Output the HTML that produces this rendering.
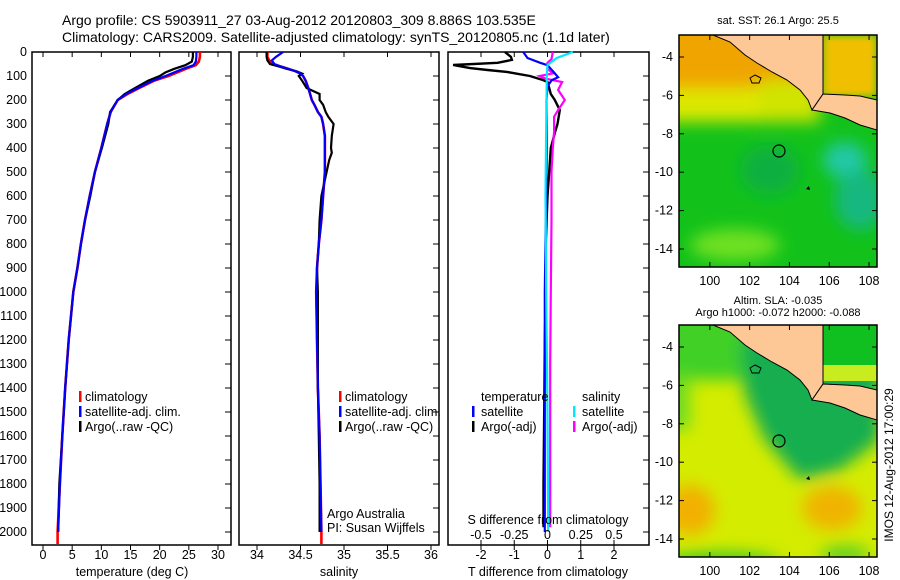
<!DOCTYPE html>
<html><head><meta charset="utf-8">
<style>
html,body{margin:0;padding:0;background:#fff;}
#wrap{position:relative;width:900px;height:580px;overflow:hidden;}
svg text{font-family:"Liberation Sans",sans-serif;font-size:12.5px;fill:#000;}
</style></head>
<body>
<div id="wrap">
<svg id="fig" width="900" height="580" viewBox="0 0 900 580" xmlns="http://www.w3.org/2000/svg">
<defs>
<filter id="bl" x="-20%" y="-20%" width="140%" height="140%"><feGaussianBlur stdDeviation="8"/></filter>
<filter id="bl2" x="-20%" y="-20%" width="140%" height="140%"><feGaussianBlur stdDeviation="4"/></filter>
<clipPath id="m1c"><rect x="679" y="35" width="198" height="232"/></clipPath>
<clipPath id="m2c"><rect x="679" y="325" width="198" height="232"/></clipPath>
</defs>
<text x="62" y="25" style="font-size:14px">Argo profile: CS 5903911_27 03-Aug-2012 20120803_309 8.886S 103.535E</text>
<text x="62" y="42" style="font-size:14px">Climatology: CARS2009. Satellite-adjusted climatology: synTS_20120805.nc (1.1d later)</text>

<!-- Map 1: SST -->
<g>
<g clip-path="url(#m1c)">
<rect x="679" y="35" width="198" height="232" fill="#12c21a"/>
<g filter="url(#bl)">
<rect x="660" y="20" width="160" height="72" fill="#f0a400"/>
<rect x="660" y="88" width="160" height="34" fill="#dce800"/>
<rect x="760" y="80" width="60" height="40" fill="#d0e400"/>
<ellipse cx="845" cy="160" rx="22" ry="18" fill="#20c8a8"/>
<ellipse cx="860" cy="200" rx="25" ry="30" fill="#18b880"/>
<ellipse cx="735" cy="245" rx="45" ry="16" fill="#70e020"/>
<ellipse cx="770" cy="170" rx="30" ry="25" fill="#10b040"/>
</g>
<rect x="823" y="35" width="54" height="62" fill="#f0c000" filter="url(#bl2)"/>
<polygon points="713,35 730,42 745,55 757,63 772,72 787,80 800,90 808,100 812,110 823,94 823,35" fill="#fdc896" stroke="#000" stroke-width="1"/>
<polygon points="823,94 845,95 860,96 877,100 877,130 860,125 845,118 830,113 812,110" fill="#fdc896" stroke="#000" stroke-width="1"/>
<path d="M750,78 l5,-3 l6,3 l-2,5 l-7,0z" fill="none" stroke="#000"/>
<path d="M806,189 l3,-3 l1,4z" fill="#000"/>
</g>
<rect x="679" y="35" width="198" height="232" fill="none" stroke="#000" stroke-width="1.5"/>
<circle cx="779" cy="151" r="6" fill="none" stroke="#000" stroke-width="1.2"/>
<text x="778" y="24" text-anchor="middle" style="font-size:11px">sat. SST: 26.1  Argo: 25.5</text>
</g>

<!-- Map 2: SLA -->
<g>
<g clip-path="url(#m2c)">
<rect x="679" y="325" width="198" height="232" fill="#d4ec00"/>
<g filter="url(#bl)">
<rect x="660" y="305" width="240" height="75" fill="#40d028"/>
<polygon points="740,340 880,330 880,440 840,470 800,480 765,440 745,395" fill="#14ae50"/>
<rect x="660" y="375" width="30" height="55" fill="#70dc20"/>
<ellipse cx="690" cy="510" rx="25" ry="25" fill="#f2b000"/>
<ellipse cx="832" cy="508" rx="30" ry="22" fill="#f0b400"/>
<ellipse cx="720" cy="562" rx="60" ry="10" fill="#40c820"/>
<ellipse cx="845" cy="555" rx="25" ry="10" fill="#60d020"/>
</g>
<rect x="823" y="325" width="54" height="40" fill="#10c020"/>
<rect x="823" y="365" width="54" height="16" fill="#c8ec20"/>
<polygon points="713,325 730,332 745,345 757,353 772,362 787,370 800,380 808,390 812,400 823,384 823,325" fill="#fdc896" stroke="#000" stroke-width="1"/>
<polygon points="823,384 845,385 860,386 877,390 877,420 860,415 845,408 830,403 812,400" fill="#fdc896" stroke="#000" stroke-width="1"/>
<path d="M750,368 l5,-3 l6,3 l-2,5 l-7,0z" fill="none" stroke="#000"/>
<path d="M806,479 l3,-3 l1,4z" fill="#000"/>
</g>
<rect x="679" y="325" width="198" height="232" fill="none" stroke="#000" stroke-width="1.5"/>
<circle cx="779" cy="441" r="6" fill="none" stroke="#000" stroke-width="1.2"/>
<text x="778" y="304" text-anchor="middle" style="font-size:11px">Altim. SLA: -0.035</text>
<text x="778" y="316" text-anchor="middle" style="font-size:11px">Argo h1000: -0.072 h2000: -0.088</text>
</g>
<text transform="translate(893,465) rotate(-90)" text-anchor="middle" style="font-size:12px">IMOS 12-Aug-2012 17:00:29</text>

<g id="plots"></g>
</svg>
</div>
<script>
// ---- Temperature panel data ----
const depthT = [0,20,40,55,70,85,100,120,150,175,200,250,300,400,500,600,700,800,900,1000,1200,1400,1600,1800,2000,2050];
const tClim  = [26.9,26.9,26.7,26.2,24.5,23,21.5,19,16.5,14.5,12.8,11.6,11,10,8.9,8,7.2,6.5,5.9,5.2,4.4,3.8,3.3,2.9,2.5,2.5];
const tSat   = [26.3,26.3,26.2,25.8,24,22.5,21,18.8,16.3,14.3,12.8,11.6,11,10,8.9,8,7.2,6.5,5.9,5.2,4.4,3.8,3.3,2.9,2.6];
const tArgo  = [25.7,25.7,25.5,24.4,22.5,21,20,18,15.8,14,12.8,11.5,11.2,10.1,8.9,8.1,7.2,6.5,5.9,5.2,4.4,3.8,3.3,2.8,2.6];
const tTicks = [0,5,10,15,20,25,30];
// ---- Salinity panel data ----
const depthS = [0,20,35,50,60,70,80,90,100,120,150,175,200,220,250,270,300,350,400,420,450,500,550,600,700,800,900,1000,1200,1400,1600,1800,2000,2050];
const sClim  = [34.12,34.12,34.14,34.17,34.27,34.36,34.44,34.5,34.53,34.56,34.59,34.61,34.63,34.66,34.70,34.74,34.76,34.78,34.78,34.78,34.78,34.78,34.77,34.76,34.74,34.71,34.69,34.68,34.69,34.70,34.72,34.73,34.74,34.74];
const sSat   = [34.30,34.22,34.17,34.20,34.27,34.36,34.44,34.5,34.53,34.56,34.59,34.61,34.63,34.66,34.70,34.74,34.76,34.78,34.78,34.78,34.78,34.78,34.77,34.76,34.74,34.71,34.69,34.68,34.69,34.70,34.72,34.73,34.74];
const sArgo  = [34.11,34.11,34.12,34.15,34.25,34.34,34.45,34.52,34.48,34.52,34.57,34.72,34.72,34.76,34.79,34.82,34.88,34.86,34.85,34.86,34.83,34.80,34.77,34.74,34.72,34.71,34.69,34.70,34.70,34.70,34.71,34.72,34.72];
const sTicks = [34,34.5,35,35.5,36];
// ---- Difference panel data ----
const dTdepth = [0,20,33,45,54,60,67,75,83,100,117,125,150,175,200,242,300,333,400,500,600,800,1000,1200,1500,1800,1980];
const dTArgo  = [-1.28,-1.1,-1.07,-1.5,-2.84,-2.6,-2.33,-1.8,-1.22,-0.53,-0.13,0,0.05,0.1,0.22,0.37,0.3,0.23,0.1,0.05,0,-0.05,-0.05,-0.08,-0.1,-0.12,-0.12];
const dTSatDepth = [0,25,45,55,70,89,105,117,142,200,400,700,1000,1500,2000];
const dTSat   = [-0.73,-0.6,-0.22,0,0.1,0.22,0.32,0.13,0,-0.03,-0.02,-0.05,-0.08,-0.08,-0.08];
const dSSatDepth = [0,25,54,100,300,600,1000,1500,2000];
const dSSat   = [0.19,0.07,0,-0.005,-0.01,-0.015,-0.01,0,0.005];
const dSArgoDepth = [0,30,45,70,89,100,110,125,158,200,242,270,333,400,500,700,1000,1300,1500,1800,1980];
const dSArgo  = [0.04,0.03,0,0,0.04,-0.06,-0.02,0.11,0.08,0.13,0.08,0.05,0.05,0.04,0.03,0.03,0.025,0.02,0.02,0.02,0.02];
const dTTicks = [-2,-1,0,1,2];
const dSTicks = [-0.5,-0.25,0,0.25,0.5];
const depthTicks = [0,100,200,300,400,500,600,700,800,900,1000,1100,1200,1300,1400,1500,1600,1700,1800,1900,2000];
// map axes
const latTicks = [-4,-6,-8,-10,-12,-14];
const lonTicks = [100,102,104,106,108];

const NS='http://www.w3.org/2000/svg';
const G=document.getElementById('plots');
function mk(tag,attrs,parent){const e=document.createElementNS(NS,tag);for(const k in attrs)e.setAttribute(k,attrs[k]);(parent||G).appendChild(e);return e;}
const yTop=52, pxPerM=0.24, yBot=545;
const yD=d=>yTop+d*pxPerM;
function lin(d0,d1,r0,r1){return v=>r0+(v-d0)*(r1-r0)/(d1-d0);}
const xT=lin(0,30,43,218), xS=lin(34,36,257,431), xDT=lin(-2,2,481,614), xDS=lin(-0.5,0.5,481,614);

function panel(x0,x1,name){
  const r=mk('rect',{x:x0,y:yTop,width:x1-x0,height:yBot-yTop,fill:'none',stroke:'#000','stroke-width':1.5});
  
  
  depthTicks.forEach(d=>{
    const t=mk('line',{x1:x1-6,x2:x1,y1:yD(d),y2:yD(d),stroke:'#000'});
    
    
  });
}
function xticks(ticks,sc,y,labY){
  ticks.forEach(v=>{
    const x=sc(v);
    const l=mk('line',{x1:x,x2:x,y1:y,y2:y+5,stroke:'#000'});
    
    
    const l2=mk('line',{x1:x,x2:x,y1:yTop,y2:yTop+5,stroke:'#000'});
    
    
    const t=mk('text',{x:x,y:labY,'text-anchor':'middle'});
    t.textContent=String(v);
    
    
  });
}
function line(xs,ds,sc,color,name,w){
  const pts=xs.map((v,i)=>sc(v).toFixed(1)+','+yD(ds[i]).toFixed(1)).join(' ');
  const p=mk('polyline',{points:pts,fill:'none',stroke:color,'stroke-width':w||2.2,'stroke-linejoin':'miter'});
  
  
}
function txt(x,y,s,name,anchor){const t=mk('text',{x:x,y:y,'text-anchor':anchor||'start'});t.textContent=s;return t;}
function mark(x,y,color,name){const r=mk('rect',{x:x,y:y-10,width:2.5,height:11,fill:color});}

// Panel 1
panel(32,231,'temperature-panel');
depthTicks.forEach(d=>{txt(27,yD(d)+4,String(d),'depth-tick-label','end');});
xticks(tTicks,xT,yBot,559);
txt(132,576,'temperature (deg C)','temperature-axis-title','middle');
line(tClim,depthT,xT,'#ff0000','temperature-climatology-line',2.6);
line(tArgo,depthT,xT,'#000000','temperature-argo-line',2.2);
line(tSat,depthT,xT,'#0000ff','temperature-satellite-line',2.2);
mark(79,401,'#ff0000','legend-climatology-marker');txt(85,401,'climatology','legend-climatology');
mark(79,416,'#0000ff','legend-satellite-marker');txt(85,416,'satellite-adj. clim.','legend-satellite');
mark(79,431,'#000','legend-argo-marker');txt(85,431,'Argo(..raw -QC)','legend-argo');

// Panel 2
panel(239,439,'salinity-panel');
xticks(sTicks,xS,yBot,559);
txt(339,576,'salinity','salinity-axis-title','middle');
line(sClim,depthS,xS,'#ff0000','salinity-climatology-line',2.6);
line(sArgo,depthS.slice(0,sArgo.length),xS,'#000000','salinity-argo-line',2.2);
line(sSat,depthS.slice(0,sSat.length),xS,'#0000ff','salinity-satellite-line',2.2);
mark(339,401,'#ff0000','legend-climatology-marker-2');txt(345,401,'climatology','legend-climatology-2');
mark(339,416,'#0000ff','legend-satellite-marker-2');txt(345,416,'satellite-adj. clim.','legend-satellite-2');
mark(339,431,'#000','legend-argo-marker-2');txt(345,431,'Argo(..raw -QC)','legend-argo-2');
txt(327,518,'Argo Australia','credit-line-1');
txt(327,532,'PI: Susan Wijffels','credit-line-2');

// Panel 3
panel(448,649,'difference-panel');
xticks(dTTicks,xDT,yBot,559);
txt(548,576,'T difference from climatology','t-diff-axis-title','middle');
line(dTArgo,dTdepth,xDT,'#000000','t-diff-argo-line',2.4);
line(dSArgo,dSArgoDepth,xDS,'#ff00ff','s-diff-argo-line',2.2);
line(dTSat,dTSatDepth,xDT,'#0000ff','t-diff-satellite-line',2.2);
line(dSSat,dSSatDepth,xDS,'#00e8ff','s-diff-satellite-line',2.2);
dSTicks.forEach(v=>{
  const l=mk('line',{x1:xDS(v),x2:xDS(v),y1:yBot-5,y2:yBot,stroke:'#000'});
  
  
  txt(xDS(v),539,String(v),'s-diff-tick-label','middle');
});
txt(548,524,'S difference from climatology','s-diff-axis-title','middle');
txt(481,401,'temperature','legend-temperature-header');
txt(582,401,'salinity','legend-salinity-header');
mark(472,416,'#0000ff','legend-t-satellite-marker');txt(481,416,'satellite','legend-t-satellite');
mark(472,431,'#000','legend-t-argo-marker');txt(481,431,'Argo(-adj)','legend-t-argo');
mark(573,416,'#00e8ff','legend-s-satellite-marker');txt(582,416,'satellite','legend-s-satellite');
mark(573,431,'#ff00ff','legend-s-argo-marker');txt(582,431,'Argo(-adj)','legend-s-argo');

// map axes
const mLon=lin(98.45,108.4,679,877);
[[35,57],[325,347]].forEach(([top,y4])=>{
  const mLat=v=>y4+(-4-v)*19.2;
  latTicks.forEach(v=>{
    const y=mLat(v);
    const a=mk('line',{x1:679,x2:684,y1:y,y2:y,stroke:'#000'});
    const b=mk('line',{x1:872,x2:877,y1:y,y2:y,stroke:'#000'});
    txt(673,y+4,String(v),'lat-tick-label','end');
  });
  lonTicks.forEach(v=>{
    const x=mLon(v);
    const a=mk('line',{x1:x,x2:x,y1:top,y2:top+5,stroke:'#000'});
    const b=mk('line',{x1:x,x2:x,y1:top+227,y2:top+232,stroke:'#000'});
    txt(x,top+250,String(v),'lon-tick-label','middle');
  });
});
</script>
</body></html>
